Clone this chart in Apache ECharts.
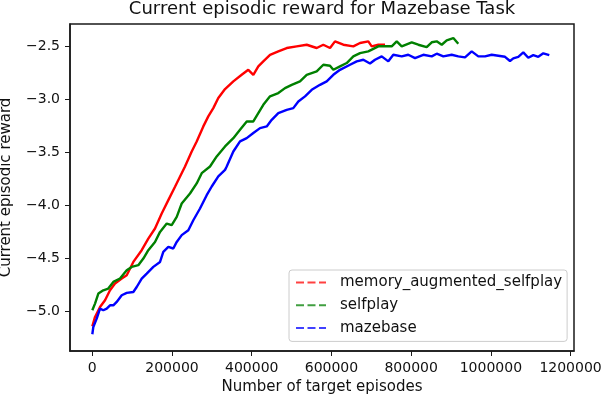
<!DOCTYPE html>
<html>
<head>
<meta charset="utf-8">
<script src="https://cdn.jsdelivr.net/npm/echarts@6/dist/echarts.min.js"></script>
<style>
  html, body { margin: 0; padding: 0; background: #fff; }
  #chart { width: 602px; height: 396px; }
</style>
</head>
<body>
<div id="chart"></div>
<script>
// values
var memX = [0, 6800, 19300, 31900, 44400, 56900, 73800, 86300, 102900, 123900, 140500, 157300, 174100, 190700, 207500, 232600, 249400, 261900, 278500, 291000, 303600, 316100, 333000, 353800, 374800, 391400, 404000, 416500, 429000, 445900, 466700, 487800, 512800, 537900, 563000, 579600, 596400, 608900, 629800, 654900, 671700, 692500, 701000, 717600, 734400]
var memY = [-5.142, -5.054, -4.960, -4.896, -4.802, -4.738, -4.691, -4.660, -4.534, -4.423, -4.313, -4.218, -4.076, -3.950, -3.823, -3.632, -3.490, -3.395, -3.253, -3.158, -3.080, -2.985, -2.900, -2.827, -2.765, -2.718, -2.765, -2.685, -2.638, -2.576, -2.544, -2.512, -2.496, -2.481, -2.512, -2.481, -2.512, -2.449, -2.481, -2.496, -2.465, -2.449, -2.496, -2.481, -2.481]

var selfX = [0, 6800, 15100, 27600, 40100, 52700, 69500, 86300, 98900, 115400, 128000, 140500, 157300, 169900, 186700, 199200, 211800, 224300, 245100, 261900, 274500, 295300, 312100, 333000, 353800, 370600, 387400, 404000, 416500, 429000, 445900, 466700, 483500, 500300, 521100, 537900, 563000, 579600, 596400, 604700, 621500, 638300, 654900, 671700, 692500, 717600, 751200, 763800, 776300, 801400, 818000, 839000, 851600, 864100, 876700, 889200, 905800, 918300]
var selfY = [-4.991, -4.928, -4.833, -4.802, -4.786, -4.723, -4.691, -4.613, -4.581, -4.565, -4.502, -4.423, -4.345, -4.250, -4.171, -4.187, -4.108, -3.982, -3.887, -3.792, -3.695, -3.632, -3.537, -3.442, -3.364, -3.285, -3.206, -3.206, -3.127, -3.049, -2.969, -2.938, -2.891, -2.860, -2.827, -2.765, -2.733, -2.670, -2.680, -2.718, -2.685, -2.654, -2.591, -2.560, -2.544, -2.496, -2.496, -2.449, -2.496, -2.458, -2.481, -2.503, -2.458, -2.449, -2.481, -2.439, -2.418, -2.472]

var mazeX = [0, 2500, 11000, 19300, 27600, 36100, 44400, 52700, 61200, 73800, 86300, 102900, 111400, 123900, 136500, 153100, 169900, 178100, 190700, 203200, 211800, 224300, 240900, 253400, 270200, 287000, 299600, 316100, 333000, 337200, 353800, 370600, 387400, 404000, 420800, 437600, 450100, 466700, 487800, 504300, 516900, 533700, 550500, 571300, 588100, 604700, 621500, 646600, 663400, 680000, 696700, 709300, 726100, 742700, 755200, 776300, 792800, 809700, 830500, 851600, 864100, 880700, 901700, 918300, 935100, 951900, 968500, 985300, 1002100, 1018700, 1035500, 1048000, 1056300, 1068800, 1081400, 1093900, 1106500, 1119000, 1131600, 1146600]
var mazeY = [-5.218, -5.149, -5.070, -4.975, -4.991, -4.975, -4.944, -4.944, -4.912, -4.849, -4.827, -4.818, -4.771, -4.691, -4.644, -4.581, -4.534, -4.439, -4.392, -4.407, -4.345, -4.281, -4.234, -4.140, -4.029, -3.903, -3.821, -3.726, -3.664, -3.632, -3.490, -3.395, -3.364, -3.316, -3.269, -3.253, -3.191, -3.127, -3.096, -3.080, -3.017, -2.969, -2.907, -2.860, -2.827, -2.765, -2.718, -2.670, -2.638, -2.623, -2.659, -2.623, -2.591, -2.638, -2.576, -2.591, -2.576, -2.607, -2.576, -2.591, -2.566, -2.591, -2.576, -2.591, -2.600, -2.544, -2.591, -2.591, -2.576, -2.585, -2.595, -2.635, -2.610, -2.595, -2.553, -2.604, -2.579, -2.595, -2.562, -2.579]

var xTicks = [0, 200000, 400000, 600000, 800000, 1000000, 1200000]
var yTicks = [-5.0, -4.5, -4.0, -3.5, -3.0, -2.5]

var names = ['memory_augmented_selfplay', 'selfplay', 'mazebase']
var colors = ['#ff0000', '#008000', '#0000ff']
var legendColors = ['#ff4040', '#409f40', '#4040ff']

function pairs(xs, ys) {
  return xs.map(function (x, i) { return [x, ys[i]] })
}

var font = 'DejaVu Sans'
var chart = echarts.init(document.getElementById('chart'))

var option = {
  animation: false,
  textStyle: { fontFamily: font },
  title: {
    text: 'Current episodic reward for Mazebase Task',
    left: 322,
    textAlign: 'center',
    top: 0,
    padding: 0,
    textStyle: { fontSize: 18, fontWeight: 'normal', color: '#111', fontFamily: font }
  },
  grid: {
    left: 70, right: 28, top: 24, bottom: 45,
    outerBoundsMode: 'none',
    containLabel: false,
    show: true, borderColor: '#1a1a1a', borderWidth: 1.5, backgroundColor: '#fff'
  },
  legend: {
    show: true,
    orient: 'vertical',
    left: 289, top: 270,
    padding: [5, 5, 6, 6],
    itemWidth: 30, itemHeight: 15, itemGap: 7.7,
    borderColor: '#cccccc', borderWidth: 1, borderRadius: 3,
    backgroundColor: 'rgba(255,255,255,0.8)',
    textStyle: { fontSize: 15, color: '#111', fontFamily: font, padding: [0, 0, 0, 9] },
    data: names.map(function (n, i) {
      return {
        name: n,
        itemStyle: { color: 'rgba(0,0,0,0)', borderWidth: 0 },
        lineStyle: { type: [8, 3.5], color: legendColors[i], width: 2 }
      }
    })
  },
  xAxis: {
    type: 'value',
    min: -56000, max: 1208600,
    name: 'Number of target episodes',
    nameLocation: 'middle', nameGap: 28,
    nameTextStyle: { fontSize: 15, color: '#111', fontFamily: font },
    axisLine: { show: true, onZero: false, lineStyle: { color: '#1a1a1a', width: 1.5 } },
    axisTick: { show: true, length: 5, customValues: xTicks, lineStyle: { color: '#1a1a1a', width: 1 } },
    axisLabel: { customValues: xTicks, margin: 10, fontSize: 14, color: '#111', fontFamily: font,
      formatter: function (v) { return String(v) } },
    splitLine: { show: false }
  },
  yAxis: {
    type: 'value',
    min: -5.376, max: -2.285,
    name: 'Current episodic reward',
    nameLocation: 'middle', nameGap: 56,
    nameTextStyle: { fontSize: 15, color: '#111', fontFamily: font },
    axisLine: { show: true, onZero: false, lineStyle: { color: '#1a1a1a', width: 1.5 } },
    axisTick: { show: true, length: 5, customValues: yTicks, lineStyle: { color: '#1a1a1a', width: 1 } },
    axisLabel: { customValues: yTicks, margin: 10, fontSize: 14, color: '#111', fontFamily: font,
      formatter: function (v) { return (v < 0 ? '\u2212' : '') + Math.abs(v).toFixed(1) } },
    splitLine: { show: false }
  },
  series: [
    { name: names[0], type: 'line', data: pairs(memX, memY) },
    { name: names[1], type: 'line', data: pairs(selfX, selfY) },
    { name: names[2], type: 'line', data: pairs(mazeX, mazeY) }
  ].map(function (s, i) {
    s.symbol = 'none'
    s.color = colors[i]
    s.lineStyle = { color: colors[i], width: 2.4 }
    s.z = 2 + i
    return s
  })
}

chart.setOption(option)
</script>
</body>
</html>
